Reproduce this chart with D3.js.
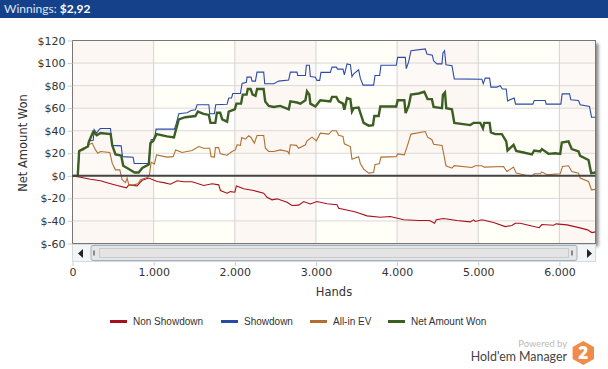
<!DOCTYPE html>
<html>
<head>
<meta charset="utf-8">
<script src="https://cdn.jsdelivr.net/npm/d3@7"></script>
<style>
    html, body { margin: 0; padding: 0; background: #fff; overflow: hidden; }
    .tick text { font-family: "DejaVu Sans", sans-serif; font-size: 11px; fill: #333; }
    .axis-title { font-family: "DejaVu Sans", sans-serif; font-size: 11.5px; fill: #333; }
    .legend-label { font-family: "Liberation Sans", sans-serif; font-size: 10px; fill: #333; }
</style>
</head>
<body>
<div id="chart"></div>
<script>
const xTicks = [0, 1000, 2000, 3000, 4000, 5000, 6000];
const yTicks = [-60, -40, -20, 0, 20, 40, 60, 80, 100, 120];
const legendLabels = ["Non Showdown", "Showdown", "All-in EV", "Net Amount Won"];

const nonShowdownHands = [0, 98, 222, 345, 447, 550, 665, 694, 796, 858, 940, 1043, 1125, 1207, 1289, 1371, 1474, 1617, 1720, 1802, 1823, 1905, 1946, 2000, 2020, 2110, 2233, 2356, 2397, 2459, 2521, 2644, 2705, 2787, 2849, 2931, 3013, 3136, 3260, 3280, 3465, 3526, 3629, 3793, 3916, 4081, 4265, 4400, 4462, 4483, 4573, 4737, 4902, 4943, 4965, 5045, 5189, 5332, 5415, 5456, 5517, 5620, 5751, 5784, 5928, 5960, 6092, 6215, 6347, 6400, 6445];
const nonShowdownValues = [0, -1.2, -3, -4.4, -6.5, -8.6, -10.6, -8, -8.9, -4, -2, -5, -6, -7.4, -4.4, -5.3, -5.3, -8.6, -7, -8, -13, -15.4, -14, -14.5, -8.9, -11.5, -13, -15.4, -19, -21.3, -20.4, -23.4, -26.3, -26, -22.8, -25, -22.8, -24.8, -25.7, -28.7, -31.6, -33, -35.5, -36.7, -36, -39, -39.6, -39.6, -42, -39, -37.8, -39.6, -40.8, -39, -40.5, -39, -41.4, -45, -44, -42, -42, -43.8, -46, -43.2, -43.8, -42.6, -43.5, -45.5, -47.9, -50.3, -49.7];

const showdownHands = [0, 65, 82, 131, 190, 200, 255, 267, 296, 333, 345, 468, 490, 600, 616, 747, 760, 940, 969, 1010, 1030, 1256, 1277, 1310, 1412, 1461, 1515, 1535, 1680, 1691, 1749, 1765, 1905, 1925, 1960, 1975, 2069, 2090, 2143, 2151, 2200, 2213, 2254, 2274, 2356, 2369, 2480, 2541, 2664, 2685, 2767, 2775, 2870, 2882, 2919, 2931, 2993, 3013, 3046, 3062, 3177, 3198, 3251, 3268, 3333, 3350, 3383, 3424, 3444, 3465, 3526, 3547, 3580, 3711, 3728, 3785, 3801, 3990, 4007, 4101, 4113, 4142, 4171, 4347, 4368, 4434, 4450, 4491, 4553, 4565, 4585, 4602, 4676, 4705, 5045, 5062, 5086, 5140, 5156, 5230, 5271, 5296, 5345, 5361, 5443, 5460, 5673, 5690, 5825, 5838, 6018, 6034, 6125, 6141, 6236, 6256, 6371, 6396, 6445];
const showdownValues = [0, 0, 22, 24.5, 26, 31, 31.5, 41, 38, 41.4, 42, 42, 27, 26.6, 17, 16.5, 11, 11, 32, 32.5, 41.4, 41.4, 46, 55, 56, 58, 58.5, 63, 63, 55, 55, 63, 63.5, 69, 69, 73, 73, 82, 83, 87.5, 87.5, 84, 84, 92, 92, 81.6, 81.6, 84, 85, 92, 92, 89, 89, 98, 98, 88, 87.5, 84.6, 84.6, 91.7, 91.7, 96.4, 96.4, 94.6, 94.6, 89.6, 99.3, 98.5, 88, 90.5, 94, 86.6, 80.4, 80.4, 89, 89, 98, 98, 105, 105, 95, 101, 111, 112.6, 108, 107, 102, 99.3, 99.3, 109, 111, 98.5, 97.6, 86, 85.7, 81.6, 86.6, 86.6, 78.7, 78.7, 80, 77, 77, 66.5, 69, 63.6, 63.6, 66.8, 66.8, 63.6, 63.6, 72.7, 72.7, 67.4, 66.8, 63, 61.5, 52, 52];

const allInHands = [0, 65, 82, 140, 200, 242, 283, 312, 345, 460, 490, 530, 583, 612, 653, 673, 694, 755, 805, 838, 920, 948, 969, 1010, 1035, 1165, 1240, 1272, 1350, 1474, 1556, 1617, 1691, 1708, 1749, 1761, 1800, 1822, 1905, 1966, 2007, 2028, 2069, 2085, 2130, 2172, 2200, 2241, 2274, 2356, 2377, 2418, 2480, 2562, 2652, 2668, 2685, 2759, 2787, 2870, 2890, 2952, 3005, 3054, 3157, 3198, 3251, 3280, 3333, 3350, 3424, 3444, 3526, 3547, 3588, 3650, 3711, 3728, 3781, 3801, 3990, 4007, 4089, 4130, 4171, 4347, 4376, 4429, 4450, 4553, 4573, 4602, 4676, 4705, 4922, 4963, 5045, 5074, 5312, 5353, 5435, 5468, 5558, 5661, 5690, 5764, 5784, 5846, 5948, 6010, 6038, 6112, 6153, 6236, 6256, 6359, 6396, 6445];
const allInValues = [0, 0, 21.6, 23, 27.5, 29, 23, 20, 21.6, 20.7, 11, 5.3, 5.3, -3.5, -6, -2, -8, -8, -7, -3.5, -1.5, 1, 12, 10.6, 18.6, 16.6, 17, 23, 20.7, 22.5, 26, 24.5, 24.5, 17, 16.6, 25, 25, 19.5, 18.3, 21.6, 23, 27.5, 27, 34, 32.5, 35.5, 34, 29, 35.8, 35.8, 24.5, 21.6, 21.6, 23, 21.6, 19.5, 27.5, 27, 24.5, 27.5, 31, 34.3, 31, 37.8, 37, 40, 40, 36, 35, 28.4, 26, 14.8, 17, 11, 6, 2.4, 3, 10, 10.6, 16.6, 17, 19.5, 18.6, 27.5, 37, 39.3, 34.3, 32, 28, 27, 20, 8.9, 6.8, 9, 7.4, 9, 9, 7.7, 8.3, 3.8, 7.7, 2.4, 1, -0.6, 1.8, 1.8, 3.5, 1, 1.5, 1.8, 8.3, 8.9, 3.8, 2.4, -2, -5, -12.4, -12];

const netWonHands = [0, 65, 82, 190, 200, 255, 300, 345, 470, 490, 530, 600, 625, 673, 765, 815, 860, 940, 960, 995, 1035, 1165, 1250, 1275, 1310, 1390, 1515, 1545, 1615, 1680, 1700, 1760, 1780, 1820, 1845, 1905, 1925, 2000, 2020, 2077, 2098, 2145, 2160, 2195, 2220, 2255, 2275, 2355, 2375, 2418, 2480, 2560, 2665, 2685, 2767, 2808, 2870, 2890, 2919, 2931, 2993, 3054, 3177, 3198, 3251, 3280, 3333, 3350, 3383, 3424, 3444, 3465, 3526, 3555, 3588, 3650, 3703, 3719, 3773, 3793, 3990, 4007, 4089, 4105, 4142, 4171, 4265, 4335, 4376, 4429, 4450, 4553, 4565, 4590, 4606, 4676, 4705, 4902, 4943, 5025, 5058, 5074, 5140, 5156, 5210, 5291, 5345, 5361, 5435, 5468, 5558, 5661, 5690, 5764, 5784, 5866, 5948, 6010, 6030, 6112, 6153, 6236, 6256, 6359, 6392, 6445];
const netWonValues = [0, 0, 22, 26, 30, 39, 36, 38, 37, 27, 19, 18, 9, 7, 3, 3, 7, 10, 29, 31, 37, 35, 34, 41, 50, 52, 53, 57, 55, 54, 47, 47, 56, 56, 50, 48, 57, 59, 64, 64, 72, 72, 77, 77, 72, 71, 77, 77, 66, 62, 61, 62, 59, 66, 65, 64, 67, 75, 72, 64, 61.5, 67, 66, 70, 70, 66, 64, 58.5, 69, 68, 57, 60, 60.5, 54, 47, 44.5, 45, 53, 53, 61.5, 61.5, 67, 67, 55.6, 62, 72, 73, 74.5, 68, 68, 61, 60, 72, 74, 60, 59, 47, 45, 47, 47, 42, 47, 47, 38.5, 37, 37, 30.5, 22.5, 27.5, 22, 20.7, 19, 22.5, 21.6, 23.7, 19.5, 20, 19.5, 29.6, 30.5, 23.7, 21.6, 17.7, 14, 2.4, 2.9];

const seriesColors = ["#a80f1c", "#2a4aa8", "#b06f30", "#3b5f22"];

const width = 608, height = 369;
const plot = { left: 72.5, right: 595.5, top: 40.5, bottom: 243.5 };

let x = d3.scaleLinear().domain([0, 6445]).range([plot.left, plot.right]);
let y = d3.scaleLinear().domain([-60, 120]).range([plot.bottom, plot.top]);

const svg = d3.select("#chart").append("svg")
    .attr("width", width)
    .attr("height", height)
    .style("display", "block");

// header bar
svg.append("rect").attr("width", width).attr("height", 18).attr("fill", "#15418a");
svg.append("text")
    .attr("x", 4).attr("y", 13)
    .attr("font-family", "Lato, sans-serif").attr("font-size", 12)
    .attr("fill", "#dfe7f3")
    .text("Winnings: ")
    .append("tspan").attr("font-weight", 700).attr("fill", "#fff").text("$2,92");

// drop shadow of the plot box
const defs = svg.append("defs");
const blur = defs.append("filter").attr("id", "shadow");
blur.append("feGaussianBlur").attr("stdDeviation", 1.5);
svg.append("rect")
    .attr("x", plot.left + 3).attr("y", plot.top + 3)
    .attr("width", plot.right - plot.left).attr("height", plot.bottom - plot.top)
    .attr("fill", "#8a8a8a")
    .attr("filter", "url(#shadow)");
svg.append("rect")
    .attr("x", plot.left).attr("y", plot.top)
    .attr("width", plot.right - plot.left).attr("height", plot.bottom - plot.top)
    .attr("fill", "#fff");

// alternating bands, vertical then horizontal
const xEdges = xTicks.concat([x.domain()[1]]);
svg.append("g").selectAll("rect")
    .data(xEdges.slice(0, -1))
    .join("rect")
    .attr("x", d => x(d))
    .attr("y", plot.top)
    .attr("width", (d, i) => x(xEdges[i + 1]) - x(d))
    .attr("height", plot.bottom - plot.top)
    .attr("fill", (d, i) => i % 2 == 0 ? "#fdf7f4" : "#fffff7");

// every other horizontal band is lighter, more so on the yellow columns
const lightBands = yTicks.filter(d => d < 120 && (d + 40) % 40 == 0);
svg.append("g").selectAll("rect")
    .data(d3.cross(xEdges.slice(0, -1).map((d, i) => i), lightBands))
    .join("rect")
    .attr("x", d => x(xEdges[d[0]]))
    .attr("y", d => y(d[1] + 20))
    .attr("width", d => x(xEdges[d[0] + 1]) - x(xEdges[d[0]]))
    .attr("height", d => y(d[1]) - y(d[1] + 20))
    .attr("fill", "#fff")
    .attr("fill-opacity", d => d[0] % 2 == 0 ? 0.3 : 1);

// grid
svg.append("g").selectAll("line")
    .data(yTicks)
    .join("line")
    .attr("x1", plot.left).attr("x2", plot.right)
    .attr("y1", d => y(d)).attr("y2", d => y(d))
    .attr("stroke", "#dcd8d5");
svg.append("g").selectAll("line")
    .data(xTicks)
    .join("line")
    .attr("x1", d => x(d)).attr("x2", d => x(d))
    .attr("y1", plot.top).attr("y2", plot.bottom)
    .attr("stroke", "#d6d2cf");

// scrollbar under the plot
const bar = svg.append("g");
bar.append("rect").attr("x", plot.left).attr("y", plot.bottom + 1).attr("width", plot.right - plot.left).attr("height", 17)
    .attr("fill", "#f2f5f8").attr("stroke", "#d3dae0");
bar.append("rect").attr("x", 91).attr("y", plot.bottom + 2).attr("width", 486).attr("height", 15).attr("rx", 2)
    .attr("fill", "#e4e6e8").attr("stroke", "#a3aeb8");
bar.append("rect").attr("x", 99.5).attr("y", plot.bottom + 5).attr("width", 469).attr("height", 9)
    .attr("fill", "#e4e4e4").attr("stroke", "#cbcbcb");
bar.append("path").attr("d", "M78 253.5l5-4.5v9z").attr("fill", "#222");
bar.append("path").attr("d", "M587 249l5 4.5-5 4.5z").attr("fill", "#222");
bar.append("rect").attr("x", 93).attr("y", plot.bottom + 7).attr("width", 2).attr("height", 5).attr("fill", "#888");
bar.append("rect").attr("x", 571).attr("y", plot.bottom + 7).attr("width", 2).attr("height", 5).attr("fill", "#888");

// plot border
svg.append("rect")
    .attr("x", plot.left).attr("y", plot.top)
    .attr("width", plot.right - plot.left).attr("height", plot.bottom - plot.top)
    .attr("fill", "none").attr("stroke", "#777");

// axes
const yFormat = d => "$" + d;
const xFormat = d => d == 0 ? "0" : d3.format(",")(d).replace(",", ".");

let yAxis = svg.append("g")
    .attr("transform", "translate(" + plot.left + ",0)")
    .call(d3.axisLeft(y).tickValues(yTicks).tickFormat(yFormat).tickSize(5).tickPadding(2));
let xAxis = svg.append("g")
    .attr("transform", "translate(0,262)")
    .call(d3.axisBottom(x).tickValues(xTicks).tickFormat(xFormat).tickSize(4).tickPadding(2));
yAxis.select(".domain").remove();
xAxis.select(".domain").remove();
svg.selectAll(".tick line").attr("stroke", "#ccc");

svg.append("text").attr("class", "axis-title")
    .attr("x", 334).attr("y", 296).attr("text-anchor", "middle").text("Hands");
svg.append("text").attr("class", "axis-title")
    .attr("transform", "translate(27,143) rotate(-90)")
    .attr("text-anchor", "middle").text("Net Amount Won");

// series
const allSeries = [
    { hands: nonShowdownHands, values: nonShowdownValues, w: 1.1 },
    { hands: showdownHands, values: showdownValues, w: 1.1 },
    { hands: allInHands, values: allInValues, w: 1.1 },
    { hands: netWonHands, values: netWonValues, w: 2.4 }
];

let valueline = d3.line()
    .x(d => x(d[0]))
    .y(d => y(d[1]));

allSeries.forEach((s, i) => {
    svg.append("path")
        .datum(d3.zip(s.hands, s.values))
        .attr("fill", "none")
        .attr("stroke", seriesColors[i])
        .attr("stroke-width", s.w)
        .attr("d", valueline);
});

// zero line sits on top
svg.append("line")
    .attr("x1", plot.left).attr("x2", plot.right)
    .attr("y1", y(0)).attr("y2", y(0))
    .attr("stroke", "#444").attr("stroke-width", 2);

// legend
const legendX = [110, 221, 310, 388];
let legend = svg.append("g").selectAll("g")
    .data(legendLabels)
    .join("g")
    .attr("transform", (d, i) => "translate(" + legendX[i] + ",321)");
legend.append("line")
    .attr("x2", 17).attr("y1", 0.5).attr("y2", 0.5)
    .attr("stroke", (d, i) => seriesColors[i]).attr("stroke-width", 3);
legend.append("text").attr("class", "legend-label")
    .attr("x", 23).attr("y", 4).text(d => d);

// logo
svg.append("text")
    .attr("x", 567).attr("y", 347).attr("text-anchor", "end")
    .attr("font-family", "Lato, sans-serif").attr("font-size", 9.4).attr("fill", "#bbb")
    .text("Powered by");
svg.append("text")
    .attr("x", 567).attr("y", 361).attr("text-anchor", "end")
    .attr("font-family", "Lato, sans-serif").attr("font-size", 12.4).attr("fill", "#444")
    .text("Hold'em Manager");
svg.append("path")
    .attr("d", "M583.3 341l10.7 6v12l-10.7 6-10.7-6v-12z")
    .attr("fill", "#f08c4a");
svg.append("text")
    .attr("x", 583.3).attr("y", 359).attr("text-anchor", "middle")
    .attr("font-family", "'Open Sans', sans-serif").attr("font-weight", 800).attr("font-size", 17).attr("fill", "#fff")
    .text("2");
</script>
</body>
</html>
